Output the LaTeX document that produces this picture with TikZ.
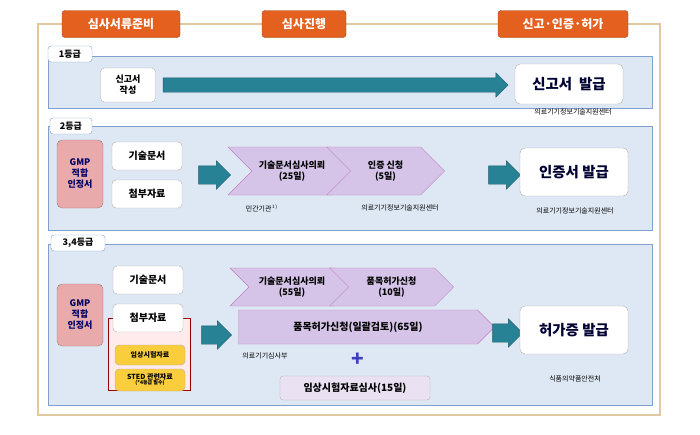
\documentclass[tikz,border=0pt]{standalone}
\usepackage{fontspec}
\setmainfont{Noto Sans CJK KR}
\usetikzlibrary{positioning, calc, shapes.arrows, shapes.symbols}
\definecolor{hdrorange}{RGB}{228,96,30}
\definecolor{frameline}{RGB}{226,200,160}
\definecolor{bandfill}{RGB}{222,232,244}
\definecolor{bandline}{RGB}{130,160,205}
\definecolor{teal}{RGB}{40,130,150}
\definecolor{lilac}{RGB}{214,196,232}
\definecolor{gmppink}{RGB}{232,170,170}
\definecolor{goldbox}{RGB}{250,205,60}
\begin{document}
\begin{tikzpicture}[x=1pt, y=-1pt, font=\bfseries]
    \tikzset{
        header/.style={draw=hdrorange!70!black, fill=hdrorange, text=white, rounded corners=3pt, minimum width=#1, minimum height=27pt, font=\bfseries\large},
        tag/.style={draw=bandline, fill=white, rounded corners=3pt, minimum height=16pt, font=\bfseries\small, inner sep=2pt},
        band/.style={draw=bandline, fill=bandfill, line width=1pt},
        docbox/.style={draw=gray!60, fill=white, rounded corners=4pt, minimum width=70pt, minimum height=28pt, font=\bfseries},
        issue/.style={draw=gray!60, fill=white, rounded corners=5pt, minimum width=108pt, minimum height=40pt, font=\bfseries\Large, text=black!80!blue},
        gmp/.style={draw=gmppink!70!black, fill=gmppink, rounded corners=5pt, minimum width=46pt, text=blue!40!black, align=center, font=\bfseries\small},
        chev/.style={signal, signal to=east, signal from=west, draw=violet!50, fill=lilac, minimum height=#1, align=center, font=\bfseries\small, inner sep=1pt},
        bigarrow/.style={single arrow, draw=teal!70!black, fill=teal, single arrow head extend=5pt, minimum height=#1, inner xsep=0pt, inner ysep=0pt, font=\tiny},
        note/.style={font=\scriptsize}
    }
    \useasboundingbox (0,0) rectangle (700,434);

    % Frame and headers
    \draw[frameline, line width=1.2pt] (38,24) -- (660,24) -- (660,415) -- (38,415) -- cycle;
    \node[header=118pt] (h1) at (121,24) {심사서류준비};
    \node[header=84pt] (h2) at (304,24) {심사진행};
    \node[header=130pt] (h3) at (563,24) {신고·인증·허가};

    % 1 grade
    \draw[band] (48,56) rectangle (652,108);
    \node[tag, minimum width=44pt] (g1) at (70,54) {1등급};
    \node[docbox, minimum width=55pt, minimum height=34pt, align=center, font=\bfseries\small] (rep) at (128,85) {신고서\\작성};
    \node[issue] (iss1) at (569,84) {신고서\enspace 발급};
    \node[bigarrow=345pt] (a1) at (332,85) {\rule{0pt}{14pt}};
    \node[note] (c1) at (573,112) {의료기기정보기술지원센터};

    % 2 grade
    \draw[band] (48,126) rectangle (652,230);
    \node[tag, minimum width=42pt] (g2) at (71,126) {2등급};
    \node[gmp, minimum height=68pt] (gmp2) at (80,174) {GMP\\적합\\인정서};
    \node[docbox] (tech2) at (147,156) {기술문서};
    \node[docbox] (att2) at (147,194) {첨부자료};
    \node[bigarrow=32pt] (a2) at (210,175) {\rule{0pt}{18pt}};
    \node[chev=48pt, minimum width=128pt] (rev2) at (292,171) {기술문서심사의뢰\\(25일)};
    \node[chev=48pt, minimum width=118pt, right=-6pt of rev2] (cert2) {인증 신청\\(5일)};
    \node[bigarrow=32pt] (a3) at (500,175) {\rule{0pt}{18pt}};
    \node[issue, minimum height=48pt] (iss2) at (574,172) {인증서 발급};
    \node[note] (c2a) at (262,208) {민간기관$^{1)}$};
    \node[note] (c2b) at (400,208) {의료기기정보기술지원센터};
    \node[note] (c2c) at (575,211) {의료기기정보기술지원센터};

    % 3,4 grade
    \draw[band] (48,244) rectangle (652,405);
    \node[tag, minimum width=54pt] (g3) at (78,243) {3,4등급};
    \node[gmp, minimum height=62pt] (gmp3) at (80,315) {GMP\\적합\\인정서};
    \draw[red!60!black, fill=red!8, line width=1pt] (108,318) rectangle (190,390);
    \node[docbox] (tech3) at (148,280) {기술문서};
    \node[docbox] (att3) at (148,318) {첨부자료};
    \node[docbox, fill=goldbox, minimum height=20pt, font=\bfseries\scriptsize] (clin) at (150,355) {임상시험자료};
    \node[docbox, fill=goldbox, minimum height=22pt, align=center, font=\bfseries\scriptsize, inner sep=1pt] (sted) at (150,380) {STED 관련자료\\[-3pt]{\tiny (*4등급 필수)}};
    \node[bigarrow=30pt] (a4) at (212,335) {\rule{0pt}{18pt}};
    \node[chev=38pt, minimum width=124pt] (rev3) at (292,287) {기술문서심사의뢰\\(55일)};
    \node[chev=38pt, minimum width=124pt, right=-6pt of rev3] (perm3) {품목허가신청\\(10일)};
    \node[chev=34pt, minimum width=256pt, signal from=nowhere, font=\bfseries] (all3) at (358,327) {품목허가신청(일괄검토)(65일)};
    \node[note] (c3a) at (265,356) {의료기기심사부};
    \node[font=\huge\bfseries, text=blue!50!gray] (plus) at (358,360) {+};
    \node[draw=gray!60, fill=lilac!50, rounded corners=3pt, minimum width=150pt, minimum height=24pt] (clinrev) at (355,388) {임상시험자료심사(15일)};
    \node[bigarrow=30pt] (a5) at (503,333) {\rule{0pt}{18pt}};
    \node[issue, minimum height=48pt] (iss3) at (574,330) {허가증 발급};
    \node[note] (c3b) at (575,379) {식품의약품안전처};
\end{tikzpicture}
\end{document}
